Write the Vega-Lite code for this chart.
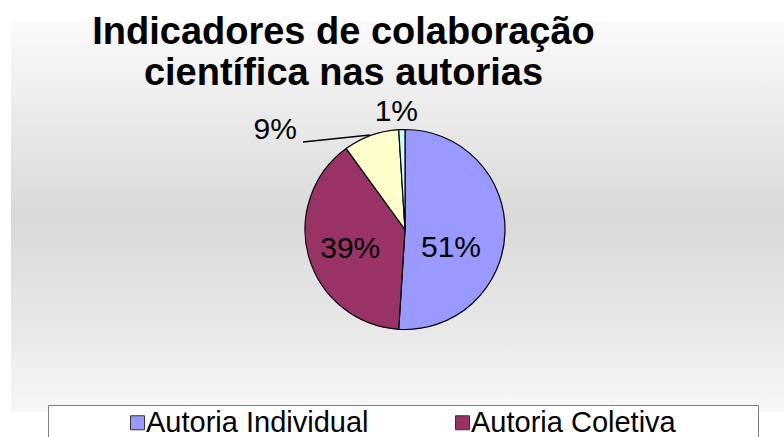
{
  "$schema": "https://vega.github.io/schema/vega-lite/v6.json",
  "width": 773,
  "height": 416,
  "autosize": {"type": "none"},
  "padding": {"left": 11, "top": 21, "right": 0, "bottom": 0},
  "background": "#ffffff",
  "title": {
    "text": ["Indicadores de colaboração", "científica nas autorias"],
    "font": "Liberation Sans",
    "fontSize": 38,
    "fontWeight": "bold",
    "color": "#000000",
    "anchor": "middle",
    "frame": "group",
    "baseline": "alphabetic",
    "lineHeight": 41,
    "dx": -54,
    "dy": 81,
    "offset": -21
  },
  "data": {
    "values": [
      {"categoria": "Autoria Individual", "pct": 0.51},
      {"categoria": "Autoria Coletiva", "pct": 0.39},
      {"categoria": "Autoria Institucional", "pct": 0.09},
      {"categoria": "Autoria Desconhecida", "pct": 0.01}
    ]
  },
  "layer": [
    {
      "data": {"values": [{}]},
      "mark": {
        "type": "rect",
        "fill": {
          "gradient": "linear",
          "x1": 0, "y1": 0, "x2": 0, "y2": 1,
          "stops": [
            {"offset": 0, "color": "#fbfbfb"},
            {"offset": 0.19, "color": "#ededed"},
            {"offset": 0.47, "color": "#d9d9d9"},
            {"offset": 0.75, "color": "#e9e9e9"},
            {"offset": 0.935, "color": "#f7f7f7"},
            {"offset": 0.94, "color": "#f8f8f8"},
            {"offset": 0.942, "color": "#ffffff"},
            {"offset": 1, "color": "#ffffff"}
          ]
        }
      },
      "encoding": {}
    },
    {
      "mark": {"type": "arc", "radius": 100, "stroke": "#000000", "strokeWidth": 1.2, "xOffset": 7.5, "yOffset": 0.5},
      "encoding": {
        "theta": {"field": "pct", "type": "quantitative", "stack": true},
        "order": {"field": "pct", "sort": "descending"},
        "color": {
          "field": "categoria",
          "type": "nominal",
          "scale": {
            "domain": ["Autoria Individual", "Autoria Coletiva", "Autoria Institucional", "Autoria Desconhecida"],
            "range": ["#9999FF", "#993366", "#FFFFCC", "#CCFFFF"]
          },
          "legend": {
            "title": " ",
            "titleOrient": "left",
            "titlePadding": 72,
            "titleFontSize": 29,
            "titleFont": "Liberation Sans",
            "orient": "none",
            "legendX": 37,
            "legendY": 384,
            "direction": "horizontal",
            "columns": 2,
            "columnPadding": 48,
            "padding": 3,
            "fillColor": "#ffffff",
            "strokeColor": "#808080",
            "symbolType": "square",
            "symbolSize": 196,
            "symbolStrokeColor": "#333333",
            "symbolStrokeWidth": 1,
            "labelFont": "Liberation Sans",
            "labelFontSize": 29,
            "labelColor": "#000000",
            "labelOffset": -6,
            "labelLimit": 500
          }
        }
      }
    },
    {
      "data": {"values": [{"x": -0.35, "y": 0.945, "x2": -1.02, "y2": 0.875}]},
      "mark": {"type": "rule", "stroke": "#000000", "strokeWidth": 1.3},
      "encoding": {
        "x": {"field": "x", "type": "quantitative", "scale": {"domain": [-3.94, 3.79]}, "axis": null},
        "y": {"field": "y", "type": "quantitative", "scale": {"domain": [-2.075, 2.085]}, "axis": null},
        "x2": {"field": "x2"},
        "y2": {"field": "y2"}
      }
    },
    {
      "mark": {"type": "text", "radius": 46, "xOffset": 7.5, "yOffset": 0.5, "dy": 17.5, "font": "Liberation Sans", "fontSize": 30, "color": "#000000"},
      "encoding": {
        "theta": {"field": "pct", "type": "quantitative", "stack": true},
        "order": {"field": "pct", "sort": "descending"},
        "detail": {"field": "categoria"},
        "text": {"condition": {"test": "datum.categoria === 'Autoria Individual'", "field": "pct", "type": "quantitative", "format": ".0%"}, "value": ""}
      }
    },
    {
      "mark": {"type": "text", "radius": 57, "xOffset": 7.5, "yOffset": 0.5, "dy": 3.5, "font": "Liberation Sans", "fontSize": 30, "color": "#000000"},
      "encoding": {
        "theta": {"field": "pct", "type": "quantitative", "stack": true},
        "order": {"field": "pct", "sort": "descending"},
        "detail": {"field": "categoria"},
        "text": {"condition": {"test": "datum.categoria === 'Autoria Coletiva'", "field": "pct", "type": "quantitative", "format": ".0%"}, "value": ""}
      }
    },
    {
      "mark": {"type": "text", "radius": 105.7, "xOffset": 7.5, "yOffset": 0.5, "dx": -94, "font": "Liberation Sans", "fontSize": 30, "color": "#000000"},
      "encoding": {
        "theta": {"field": "pct", "type": "quantitative", "stack": true},
        "order": {"field": "pct", "sort": "descending"},
        "detail": {"field": "categoria"},
        "text": {"condition": {"test": "datum.categoria === 'Autoria Institucional'", "field": "pct", "type": "quantitative", "format": ".0%"}, "value": ""}
      }
    },
    {
      "mark": {"type": "text", "radius": 117.5, "xOffset": 7.5, "yOffset": 0.5, "dx": -5, "font": "Liberation Sans", "fontSize": 30, "color": "#000000"},
      "encoding": {
        "theta": {"field": "pct", "type": "quantitative", "stack": true},
        "order": {"field": "pct", "sort": "descending"},
        "detail": {"field": "categoria"},
        "text": {"condition": {"test": "datum.categoria === 'Autoria Desconhecida'", "field": "pct", "type": "quantitative", "format": ".0%"}, "value": ""}
      }
    }
  ]
}
